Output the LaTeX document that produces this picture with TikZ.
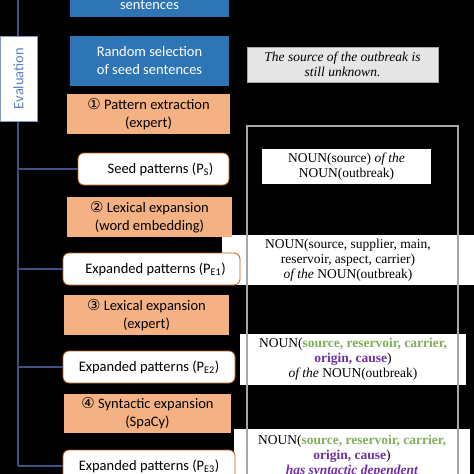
\documentclass[tikz,border=0pt]{standalone}
\usepackage{fontspec}
\setmainfont{Liberation Serif}
\newfontfamily\carl{Carlito}
\newfontfamily\symf{DejaVu Sans}
\usetikzlibrary{calc}
\definecolor{myblue}{HTML}{2E75B6}
\definecolor{myorange}{HTML}{F4B183}
\definecolor{patborder}{HTML}{C55A11}
\definecolor{linecol}{HTML}{3F5183}
\definecolor{evalborder}{HTML}{7F96C8}
\definecolor{evaltext}{HTML}{5B7FBF}
\definecolor{sentgray}{HTML}{E7E6E6}
\definecolor{rectgray}{HTML}{A6A6A6}
\definecolor{mygreen}{HTML}{7FAF5A}
\definecolor{mypurple}{HTML}{7030A0}
\newcommand{\cnum}[1]{{\symf\fontsize{15}{18}\selectfont #1}}
\newcommand{\grn}[1]{\textcolor{mygreen}{\textbf{#1}}}
\newcommand{\prp}[1]{\textcolor{mypurple}{\textbf{#1}}}
\tikzset{
  leftfont/.style={font=\carl\fontsize{14.5}{18}\selectfont, align=center},
  bluebox/.style={leftfont, fill=myblue, text=white, inner sep=0pt},
  orangebox/.style={leftfont, fill=myorange, text=black, inner sep=0pt},
  patbox/.style={leftfont, fill=white, draw=patborder, line width=0.8pt, rounded corners=6pt, inner sep=0pt, text=black},
  rightbox/.style={font=\fontsize{13.5}{15}\selectfont, align=center, fill=white, inner sep=0pt, text=black},
  conn/.style={draw=linecol, line width=1.4pt},
}
\begin{document}
\begin{tikzpicture}[x=1pt,y=-1pt]
\useasboundingbox (0,0) rectangle (474,474);
\fill[black] (0,0) rectangle (474,474);
\begin{scope}
\clip (0,0) rectangle (474,474);
% right column
\node[rightbox, fill=sentgray, draw=rectgray, line width=0.6pt, font=\itshape\fontsize{13.5}{15}\selectfont, minimum width=191pt, minimum height=35pt] (sent) at (342.5,64.5) {The source of the outbreak is\\still unknown.};
\node[rightbox, minimum width=169pt, minimum height=35pt] (r1) at (346.5,166.5) {NOUN(source) \textit{of the}\\NOUN(outbreak)};
\node[rightbox, minimum width=252pt, minimum height=50pt] (r2) at (348,260) {NOUN(source, supplier, main,\\reservoir, aspect, carrier)\\\textit{of the} NOUN(outbreak)};
\node[rightbox, minimum width=226pt, minimum height=51pt] (r3) at (353,359.5) {NOUN(\grn{source, reservoir, carrier,}\\\prp{origin, cause})\\\textit{of the} NOUN(outbreak)};
\node[rightbox, anchor=north, minimum width=236pt, inner ysep=6pt] (r4) at (352,429) {NOUN(\grn{source, reservoir, carrier,}\\\prp{origin, cause})\\\textcolor{mypurple}{\textit{\textbf{has syntactic dependent}}}};
\draw[draw=rectgray, line width=1.5pt] (247,520) -- (247,126) -- (458,126) -- (458,520);
% left column boxes
\node[bluebox, minimum width=159pt, minimum height=24pt] (top) at (149.5,5) {sentences};
\node[bluebox, minimum width=159pt, minimum height=50pt] (randsel) at (149.5,61) {Random selection\\of seed sentences};
\node[orangebox, minimum width=163pt, minimum height=40pt] (step1) at (148.5,114) {\cnum{①} Pattern extraction\\(expert)};
\node[patbox, minimum width=151pt, minimum height=32pt] (seed) at (153.5,169) {\hspace{14pt}Seed patterns (P\textsubscript{S})};
\node[orangebox, minimum width=165pt, minimum height=40pt] (step2) at (149.5,217) {\cnum{②} Lexical expansion\\(word embedding)};
\node[patbox, minimum width=177pt, minimum height=32pt] (pe1) at (151.5,269) {\hspace{8pt}Expanded patterns (P\textsubscript{E1})};
\node[orangebox, minimum width=165pt, minimum height=40pt] (step3) at (146.5,315) {\cnum{③} Lexical expansion\\(expert)};
\node[patbox, minimum width=172pt, minimum height=32pt] (pe2) at (149,367) {Expanded patterns (P\textsubscript{E2})};
\node[orangebox, minimum width=167pt, minimum height=39pt] (step4) at (147.5,413.5) {\cnum{④} Syntactic expansion\\(SpaCy)};
\node[patbox, minimum width=172pt, minimum height=32pt] (pe3) at (149,466) {Expanded patterns (P\textsubscript{E3})};
% evaluation
\coordinate (ltop) at (18,-5);
\coordinate (lbot) at (18,466);
\draw[conn] (ltop) -- (lbot);
\node[leftfont, draw=evalborder, line width=0.8pt, fill=white, text=evaltext, rotate=90, minimum width=85pt, minimum height=37pt, inner sep=0pt] (eval) at (18.5,78.5) {Evaluation};
\draw[conn] (lbot) -- (pe3.west);
\draw[conn] (seed.west) -- (seed.west -| lbot);
\draw[conn] (pe1.west) -- (pe1.west -| lbot);
\draw[conn] (pe2.west) -- (pe2.west -| lbot);
\end{scope}
\end{tikzpicture}
\end{document}
